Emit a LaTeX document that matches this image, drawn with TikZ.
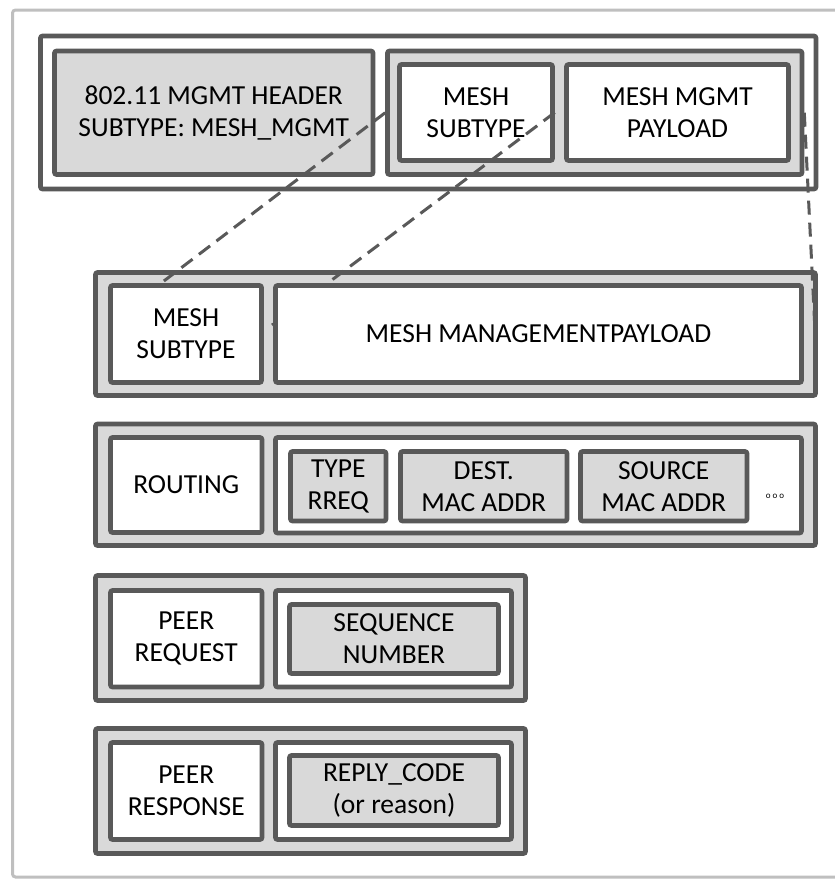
\documentclass[tikz,border=0pt]{standalone}
\usepackage{fontspec}
\setmainfont{Carlito}
\definecolor{edgegray}{HTML}{595959}
\definecolor{cellgray}{HTML}{D9D9D9}
\definecolor{framegray}{HTML}{BFBFBF}
\begin{document}
\begin{tikzpicture}[x=1pt,y=-1pt,
  frameline/.style={draw=framegray, line width=3pt, rounded corners=3pt},
  cell/.style={draw=edgegray, line width=4.6pt, rounded corners=2pt,
    inner sep=0pt, align=center, text=black,
    font=\fontsize{27.5}{32}\selectfont},
  plain/.style={cell, fill=white},
  shaded/.style={cell, fill=cellgray},
  link/.style={draw=edgegray, line width=3pt, dash pattern=on 14pt off 8pt}
]
\useasboundingbox (0,0) rectangle (835,879);
\draw[frameline] (845,10) -- (12.5,10) -- (12.5,877) -- (845,877);

% management frame
\node[plain, minimum width=775.5pt, minimum height=153pt] (frame) at (428.25,112.5) {};
\node[shaded, minimum width=318.5pt, minimum height=123.5pt] (hdr) at (213.75,112.75) {802.11 MGMT HEADER\\SUBTYPE: MESH\_MGMT};
\node[shaded, minimum width=414.5pt, minimum height=123.5pt] (mbody) at (594.75,112.75) {};
\node[plain, minimum width=153pt, minimum height=96pt] (msub) at (476,112.5) {MESH\\SUBTYPE};
\node[plain, minimum width=222pt, minimum height=96pt] (mpay) at (677.5,112.5) {MESH MGMT\\PAYLOAD};

% mesh management body
\node[shaded, minimum width=720pt, minimum height=123pt] (body) at (455.5,334) {};

% expansion lines
\coordinate (e1) at (106,325);
\coordinate (e2) at (272,325);
\coordinate (e3) at (815,331);
\draw[link] (mbody.west) -- (e1);
\draw[link] (msub.east) -- (e2);
\draw[link] (mbody.east) -- (e3);

\node[plain, minimum width=151pt, minimum height=97pt] (bsub) at (186,334) {MESH\\SUBTYPE};
\node[plain, minimum width=526pt, minimum height=97pt] (bpay) at (538.5,334) {MESH MANAGEMENTPAYLOAD};

% routing
\node[shaded, minimum width=720pt, minimum height=121.5pt] (rt) at (455.5,484.75) {};
\node[plain, minimum width=151.5pt, minimum height=95pt] (rtname) at (186.25,485) {ROUTING};
\node[plain, minimum width=526pt, minimum height=95.5pt] (rtbody) at (538.5,485.25) {};
\node[shaded, minimum width=95.5pt, minimum height=69.5pt] (rttype) at (338.25,486.25) {TYPE\\RREQ};
\node[shaded, minimum width=166.5pt, minimum height=69.5pt] (rtdst) at (483.75,486.25) {DEST.\\MAC ADDR};
\node[shaded, minimum width=166.5pt, minimum height=69.5pt] (rtsrc) at (663.75,486.25) {SOURCE\\MAC ADDR};
\node[font=\fontsize{9}{9}\selectfont, inner sep=0pt] (rtmore) at (775,496) {o o o};

% peer request
\node[shaded, minimum width=430pt, minimum height=125pt] (pq) at (310.5,638) {};
\node[plain, minimum width=151.5pt, minimum height=96.5pt] (pqname) at (186.25,638.75) {PEER\\REQUEST};
\node[plain, minimum width=236pt, minimum height=96.5pt] (pqbody) at (393.5,638.75) {};
\node[shaded, minimum width=209pt, minimum height=69pt] (pqseq) at (394,639) {SEQUENCE\\NUMBER};

% peer response
\node[shaded, minimum width=430pt, minimum height=125pt] (pr) at (310.5,791) {};
\node[plain, minimum width=151.5pt, minimum height=97pt] (prname) at (186.25,791) {PEER\\RESPONSE};
\node[plain, minimum width=236pt, minimum height=97pt] (prbody) at (393.5,791) {};
\node[shaded, minimum width=209pt, minimum height=70pt] (prcode) at (394,790.5) {REPLY\_CODE\\(or reason)};
\end{tikzpicture}
\end{document}
